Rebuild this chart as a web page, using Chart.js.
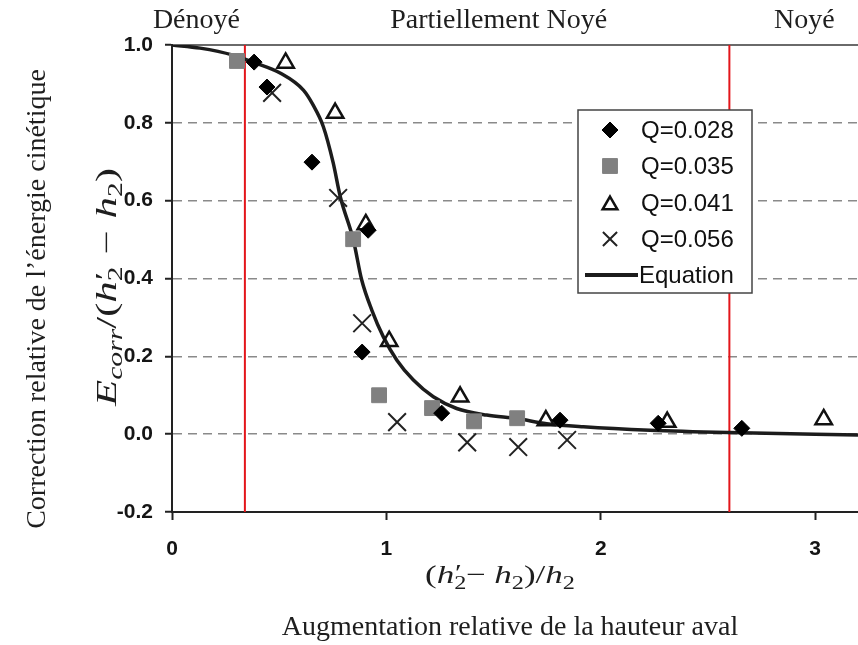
<!DOCTYPE html>
<html><head><meta charset="utf-8">
<script src="https://cdn.jsdelivr.net/npm/chart.js"></script>
<style>html,body{margin:0;padding:0;background:#fff;}canvas{display:block;}</style>
</head><body>
<canvas id="c" width="858" height="645"></canvas>
<script>
// ---- data ----
const xTickValues = [0, 1, 2, 3];
const yTickValues = [-0.2, 0, 0.2, 0.4, 0.6, 0.8, 1.0];
const regimeBounds = [0.34, 2.6];
const regimeLabels = ['Dénoyé', 'Partiellement Noyé', 'Noyé'];
const seriesNames = ['Q=0.028', 'Q=0.035', 'Q=0.041', 'Q=0.056', 'Equation'];

const q028X = [0.383, 0.443, 0.653, 0.915, 0.887, 1.258, 1.81, 2.268, 2.658];
const q028Y = [0.956, 0.892, 0.699, 0.524, 0.211, 0.054, 0.036, 0.028, 0.015];
const q035X = [0.303, 0.845, 0.966, 1.213, 1.409, 1.61];
const q035Y = [0.959, 0.501, 0.100, 0.067, 0.033, 0.041];
const q041X = [0.53, 0.761, 0.904, 1.013, 1.344, 1.744, 2.31, 3.04];
const q041Y = [0.954, 0.825, 0.539, 0.239, 0.096, 0.035, 0.031, 0.038];
const q056X = [0.467, 0.775, 0.887, 1.05, 1.377, 1.615, 1.843];
const q056Y = [0.877, 0.607, 0.285, 0.031, -0.021, -0.033, -0.015];
const eqX = [0, 0.131, 0.285, 0.387, 0.504, 0.613, 0.658, 0.706, 0.752, 0.785, 0.846, 0.885, 0.932, 0.986, 1.049, 1.126, 1.219, 1.328, 1.468, 1.608, 1.748, 1.919, 2.23, 2.6, 3.2];
const eqY = [1.0, 0.992, 0.974, 0.954, 0.928, 0.884, 0.846, 0.79, 0.697, 0.61, 0.499, 0.396, 0.319, 0.250, 0.190, 0.139, 0.096, 0.066, 0.049, 0.040, 0.027, 0.019, 0.010, 0.004, -0.002];

const X_MIN = 0, X_MAX = 3.2, Y_MIN = -0.2, Y_MAX = 1.0;

const zip = (xs, ys) => xs.map((x, i) => ({x, y: ys[i]}));
const vline = v => [{x: v, y: Y_MIN}, {x: v, y: Y_MAX}];

const markerStyles = [
  {pointStyle: 'rectRot', radius: 8, backgroundColor: '#000', borderColor: '#000', borderWidth: 1},
  {pointStyle: 'rect', radius: 10.5, backgroundColor: '#808080', borderColor: '#808080', borderWidth: 1},
  {pointStyle: 'triangle', radius: 9.5, backgroundColor: 'rgba(255,255,255,0)', borderColor: '#111', borderWidth: 2.5},
  {pointStyle: 'crossRot', radius: 12.5, backgroundColor: '#222', borderColor: '#222', borderWidth: 2}
];
const seriesX = [q028X, q035X, q041X, q056X];
const seriesY = [q028Y, q035Y, q041Y, q056Y];

const datasets = seriesX.map((xs, i) => ({
  label: seriesNames[i],
  data: zip(xs, seriesY[i]),
  showLine: false,
  pointStyle: markerStyles[i].pointStyle,
  pointRadius: markerStyles[i].radius,
  pointBackgroundColor: markerStyles[i].backgroundColor,
  pointBorderColor: markerStyles[i].borderColor,
  pointBorderWidth: markerStyles[i].borderWidth,
  xAxisID: 'x', yAxisID: 'y'
}));
datasets.push({
  label: seriesNames[4], data: zip(eqX, eqY), showLine: true, pointRadius: 0,
  borderColor: '#1c1c1c', borderWidth: 3.5, cubicInterpolationMode: 'monotone', fill: false
});
regimeBounds.forEach(v => datasets.push({
  label: 'limit', data: vline(v), showLine: true, pointRadius: 0,
  borderColor: '#e3151a', borderWidth: 2, fill: false
}));

// ---- math text helper ----
function drawMath(ctx, pieces, size, targetW) {
  const fam = "'Liberation Serif','Times New Roman',serif";
  const sizeFor = p => p.sub ? Math.round(size * 0.7) : (p.sup ? Math.round(size * 0.9) : size);
  const fontFor = p => (p.i ? 'italic ' : '') + sizeFor(p) + 'px ' + fam;
  let x = 0; const items = [];
  pieces.forEach(p => {
    ctx.font = fontFor(p);
    const w = ctx.measureText(p.t).width;
    let dy = 0;
    if (p.sub) dy = size * 0.22;
    if (p.sup) dy = -size * 0.12;
    items.push({p, x: x + (p.dx || 0) * size, dy, font: ctx.font});
    if (!p.stack) x += w + (p.gap || 0);
  });
  const W = x;
  const s = targetW ? targetW / W : 1;
  ctx.save();
  ctx.scale(s, 1);
  ctx.translate(-W / 2, 0);
  items.forEach(it => { ctx.font = it.font; ctx.fillText(it.p.t, it.x, it.dy); });
  ctx.restore();
}

const xTitleMath = [
  {t: '('}, {t: 'h', i: true}, {t: '\u2032', sup: true, stack: true, dx: 0.02}, {t: '2', sub: true},
  {t: '\u2212', gap: 6}, {t: 'h', i: true}, {t: '2', sub: true}, {t: ')'}, {t: '/'}, {t: 'h', i: true}, {t: '2', sub: true}
];
const yTitleMath = [
  {t: 'E', i: true}, {t: 'corr', i: true, sub: true}, {t: '/'}, {t: '('}, {t: 'h', i: true},
  {t: '\u2032', sup: true, stack: true, dx: 0.02}, {t: '2', sub: true, gap: 8}, {t: '\u2212', gap: 8}, {t: 'h', i: true}, {t: '2', sub: true}, {t: ')'}
];

const decorPlugin = {
  id: 'decor',
  afterDraw(chart) {
    const ctx = chart.ctx;
    const xs = chart.scales.x;
    const serif = "'Liberation Serif','Times New Roman',serif";
    ctx.save();
    ctx.fillStyle = '#1e1e1e';
    ctx.textBaseline = 'alphabetic';
    ctx.font = '28px ' + serif;
    ctx.textAlign = 'center';
    const regimeCenters = [0.114, 1.524, 2.95];
    regimeLabels.forEach((t, i) => ctx.fillText(t, xs.getPixelForValue(regimeCenters[i]), 28));
    ctx.fillText('Augmentation relative de la hauteur aval', 510, 635);
    ctx.save(); ctx.translate(500, 583); ctx.textAlign = 'left'; drawMath(ctx, xTitleMath, 26, 150); ctx.restore();
    ctx.save(); ctx.translate(45, 299); ctx.rotate(-Math.PI / 2); ctx.textAlign = 'center';
    ctx.font = '28px ' + serif; ctx.fillText("Correction relative de l\u2019énergie cinétique", 0, 0); ctx.restore();
    ctx.save(); ctx.translate(116, 287); ctx.rotate(-Math.PI / 2); ctx.textAlign = 'left';
    drawMath(ctx, yTitleMath, 29, 238); ctx.restore();

    // legend box
    const L = 578, T = 110, R = 752, B = 293;
    ctx.fillStyle = '#fff'; ctx.fillRect(L, T, R - L, B - T);
    ctx.strokeStyle = '#444'; ctx.lineWidth = 1.5; ctx.strokeRect(L, T, R - L, B - T);
    const rows = [130, 166, 203, 239, 275];
    ctx.font = "24px 'Liberation Sans', Arial, sans-serif";
    ctx.textAlign = 'left'; ctx.textBaseline = 'middle';
    for (let i = 0; i < 4; i++) {
      const m = markerStyles[i];
      ctx.fillStyle = m.backgroundColor; ctx.strokeStyle = m.borderColor; ctx.lineWidth = m.borderWidth;
      const r = m.pointStyle === 'crossRot' ? 10 : (m.pointStyle === 'triangle' ? 8.5 : m.radius);
      Chart.helpers.drawPoint(ctx, {pointStyle: m.pointStyle, radius: r, borderWidth: m.borderWidth, rotation: 0}, 610, rows[i] + (m.pointStyle === 'triangle' ? 2 : 0));
      ctx.fillStyle = '#111';
      ctx.fillText(seriesNames[i], 641, rows[i] + 1);
    }
    ctx.strokeStyle = '#1c1c1c'; ctx.lineWidth = 4;
    ctx.beginPath(); ctx.moveTo(585, rows[4]); ctx.lineTo(638, rows[4]); ctx.stroke();
    ctx.fillStyle = '#111'; ctx.fillText(seriesNames[4], 639, rows[4] + 1);
    ctx.restore();
  }
};

const tickFont = {family: "'Liberation Sans', Arial, sans-serif", size: 21, weight: 'bold'};
const noPad = s => { s.paddingLeft = 0; s.paddingRight = 0; s.paddingTop = 0; s.paddingBottom = 0; };

new Chart(document.getElementById('c'), {
  type: 'scatter',
  data: {datasets},
  options: {
    responsive: false, animation: false, devicePixelRatio: 1,
    layout: {autoPadding: false, padding: {top: 45, left: 0, right: 0, bottom: 0}},
    plugins: {legend: {display: false}, tooltip: {enabled: false}},
    scales: {
      x: {
        type: 'linear', position: 'bottom', min: X_MIN, max: X_MAX,
        afterBuildTicks: s => { s.ticks = xTickValues.map(v => ({value: v})); },
        afterFit: s => { s.height = 133; noPad(s); },
        grid: {drawOnChartArea: false, drawTicks: true, tickLength: 8, tickColor: '#222', tickWidth: 2},
        border: {color: '#222', width: 2},
        ticks: {font: tickFont, color: '#151515', padding: 17, callback: v => String(v)}
      },
      xTop: {
        type: 'linear', position: 'top', min: X_MIN, max: X_MAX,
        afterFit: s => { s.height = 0; noPad(s); },
        grid: {drawOnChartArea: false, drawTicks: false},
        border: {color: '#6a6a6a', width: 2},
        ticks: {display: false}
      },
      y: {
        type: 'linear', position: 'left', min: Y_MIN, max: Y_MAX,
        afterBuildTicks: s => { s.ticks = yTickValues.map(v => ({value: v})); },
        afterFit: s => { s.width = 172; noPad(s); },
        grid: {
          color: c => (c.tick && c.tick.value > Y_MIN + 1e-6 && c.tick.value < Y_MAX - 1e-6) ? '#8a8a8a' : 'rgba(0,0,0,0)',
          lineWidth: 1.5, drawTicks: true, tickLength: 7, tickColor: '#222', tickWidth: 2
        },
        border: {color: '#222', width: 2, dash: [9, 6]},
        ticks: {font: tickFont, color: '#151515', padding: 12, callback: v => Number(v).toFixed(1)}
      }
    }
  },
  plugins: [decorPlugin]
});
</script>
</body></html>
